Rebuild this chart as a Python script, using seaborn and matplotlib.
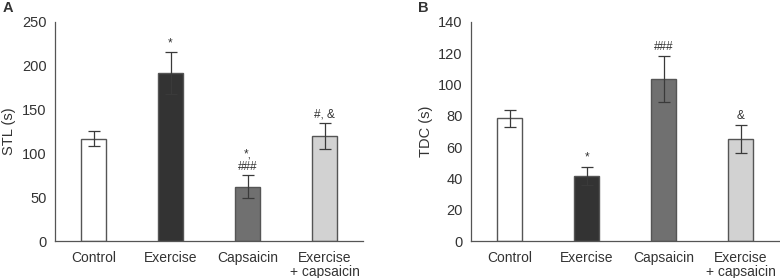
import matplotlib
matplotlib.use("Agg")
import matplotlib.pyplot as plt
import seaborn as sns
import pandas as pd
import numpy as np

categories = ["Control", "Exercise", "Capsaicin", "Exercise\n+ capsaicin"]
stl_mean = [117, 192, 62, 120]
stl_err = [8, 24, 13, 15]
stl_marks = ["", "*", "*,\n###", "#, &"]
tdc_mean = [78.5, 41.5, 103.5, 65]
tdc_err = [5.5, 6, 14.5, 9]
tdc_marks = ["", "*", "###", "&"]
colors = ["#ffffff", "#333333", "#707070", "#d2d2d2"]

sns.set_style("white")
plt.rcParams["font.family"] = ["Liberation Sans", "DejaVu Sans"]
plt.rcParams["font.size"] = 10

fig = plt.figure(figsize=(7.8, 2.78), dpi=100)
axA = fig.add_axes([0.0705, 0.133, 0.395, 0.788])
axB = fig.add_axes([0.604, 0.133, 0.395, 0.788])

def panel(ax, means, errs, marks, ylim, yticks, ylabel, mark_pad):
    df = pd.DataFrame({"group": categories, "value": means})
    sns.barplot(data=df, x="group", y="value", hue="group", palette=colors,
                order=categories, hue_order=categories, dodge=False, legend=False,
                width=0.32, edgecolor="#555555", linewidth=1.0, ax=ax)
    ax.errorbar(np.arange(len(means)), means, yerr=errs, fmt="none",
                ecolor="#3a3a3a", elinewidth=0.9, capsize=4, capthick=0.9, zorder=5)
    for i, (m, e, t) in enumerate(zip(means, errs, marks)):
        if t:
            ax.text(i, m + e + mark_pad, t, ha="center", va="bottom",
                    fontsize=8.5, color="#333333", linespacing=1.05)
    ax.set_xlim(-0.5, 3.5)
    ax.set_ylim(*ylim)
    ax.set_yticks(yticks)
    ax.set_xticks(range(4))
    ax.set_xticklabels(categories, color="#333333", linespacing=1.0, fontsize=10)
    ax.set_xticks([0.5, 1.5, 2.5, 3.5], minor=True)
    ax.tick_params(axis="x", which="major", length=0, pad=7)
    ax.tick_params(axis="x", which="minor", length=4, width=0.8, color="#555555", direction="out")
    ax.tick_params(axis="y", length=4, width=0.8, color="#555555", direction="out",
                   labelcolor="#333333", labelsize=10.5, pad=2)
    ax.set_xlabel("")
    ax.set_ylabel(ylabel, color="#333333", labelpad=4, fontsize=10.5)
    for s in ["top", "right"]:
        ax.spines[s].set_visible(False)
    for s in ["left", "bottom"]:
        ax.spines[s].set_color("#555555")
        ax.spines[s].set_linewidth(0.9)

panel(axA, stl_mean, stl_err, stl_marks, (0, 250), range(0, 251, 50), "STL (s)", 3)
panel(axB, tdc_mean, tdc_err, tdc_marks, (0, 140), range(0, 141, 20), "TDC (s)", 2)

fig.text(0.004, 0.995, "A", fontsize=10.5, fontweight="bold", va="top", ha="left", color="#333333")
fig.text(0.536, 0.995, "B", fontsize=10.5, fontweight="bold", va="top", ha="left", color="#333333")

fig.savefig("out.png", dpi=100)
